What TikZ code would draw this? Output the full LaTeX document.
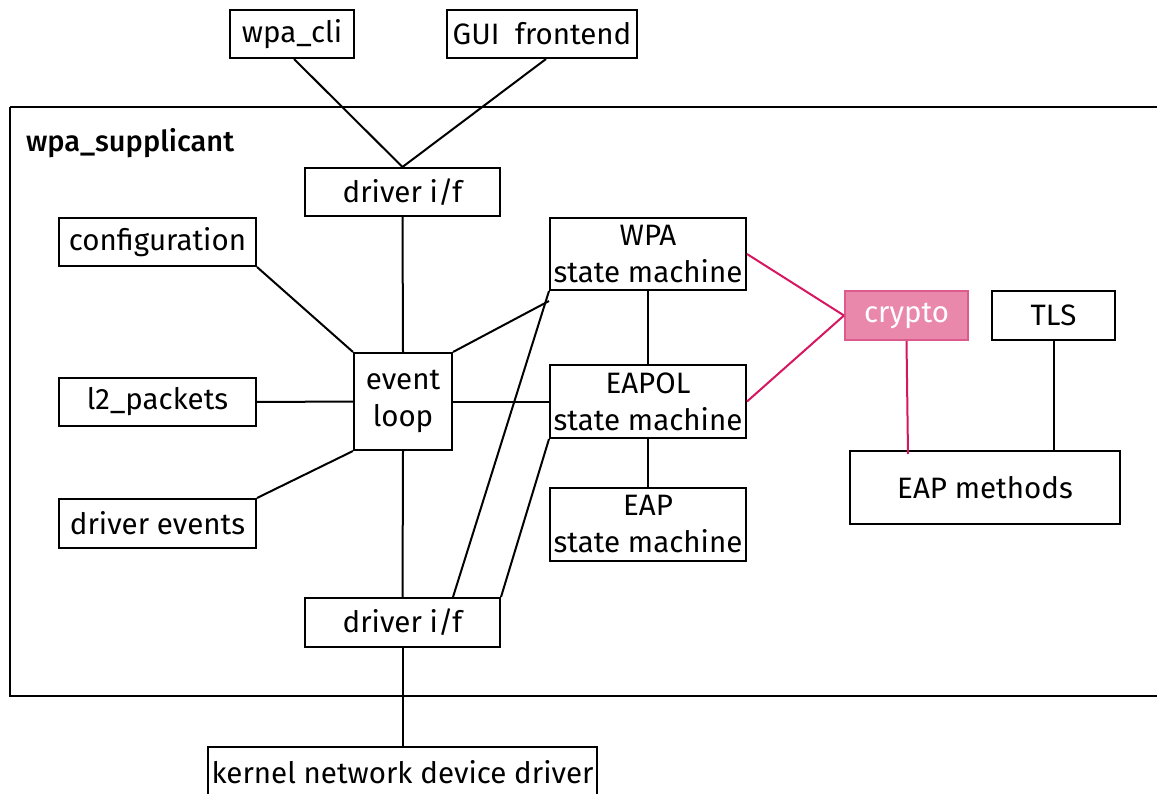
\documentclass[tikz,border=0pt]{standalone}
\usepackage{fontspec}
\setmainfont{Fira Sans}
\newfontfamily\titlefont{Fira Sans Medium}
\definecolor{crim}{HTML}{D6165F}
\definecolor{cryfill}{HTML}{E988AA}
\definecolor{cryline}{HTML}{DD5A8C}
\begin{document}
\begin{tikzpicture}[x=1pt,y=-1pt,line width=2pt,
  bx/.style={draw,rectangle,minimum width=#1,inner sep=0pt,align=center,font=\fontsize{29.5}{37}\selectfont},
  red/.style={draw=crim,line width=2pt}]
\useasboundingbox (0,0) rectangle (1157,794);
% outer box
\draw (10,107) -- (1160,107) (10,107) -- (10,696) -- (1160,696);
\node[anchor=west,inner sep=0pt,font=\fontsize{29}{30}\titlefont] (title) at (25,143) {wpa\_supplicant};
% nodes
\node[bx=124pt,minimum height=48pt] (cli) at (292,34) {wpa\_cli};
\node[bx=190pt,minimum height=48pt] (gui) at (542,34) {GUI\ \ frontend};
\node[bx=195pt,minimum height=48pt] (dif1) at (402.5,192) {driver i/f};
\node[bx=197pt,minimum height=48pt] (conf) at (157.5,242) {configuration};
\node[bx=196pt,minimum height=72pt] (wpa) at (648,254) {WPA\\state machine};
\node[bx=98pt,minimum height=97pt] (ev) at (403,401.5) {event\\loop};
\node[bx=197pt,minimum height=48pt] (l2) at (157.5,402) {l2\_packets};
\node[bx=196pt,minimum height=73pt] (eapol) at (648,401.5) {EAPOL\\state machine};
\node[bx=123pt,minimum height=49pt,fill=cryfill,draw=cryline,text=white] (cry) at (906.5,315.5) {crypto};
\node[bx=123pt,minimum height=49pt] (tls) at (1053.5,315.5) {TLS};
\node[bx=270pt,minimum height=73pt] (eapm) at (985,487.5) {EAP methods};
\node[bx=197pt,minimum height=49pt] (dev) at (157.5,523.5) {driver events};
\node[bx=196pt,minimum height=73pt] (eapsm) at (648,524.5) {EAP\\state machine};
\node[bx=195pt,minimum height=49pt] (dif2) at (402.5,622.5) {driver i/f};
\node[bx=389pt,minimum height=50pt,anchor=north] (kern) at (402.5,746) {kernel network device driver};
% connectors
\draw ([xshift=2pt]cli.south) -- (dif1.north);
\draw ([xshift=4pt]gui.south) -- (dif1.north);
\draw (dif1.south) -- (ev.north);
\draw (conf.south east) -- (ev.north west);
\draw (l2.east) -- (ev.west);
\draw (dev.north east) -- (ev.south west);
\draw (ev.north east) -- ([yshift=-10pt]wpa.south west);
\draw (ev.east) -- (eapol.west);
\draw (ev.south) -- (dif2.north);
\draw (wpa.south west) -- ([xshift=-48pt]dif2.north east);
\draw (eapol.south west) -- (dif2.north east);
\draw (wpa.south) -- (eapol.north);
\draw (eapol.south) -- (eapsm.north);
\draw[red] (wpa.east) -- (cry.west);
\draw[red] (eapol.east) -- (cry.west);
\draw[red] (cry.south) -- ([xshift=-77pt,yshift=-4pt]eapm.north);
\draw (tls.south) -- (tls.south |- eapm.north);
\draw (dif2.south) -- (kern.north);
\end{tikzpicture}
\end{document}
